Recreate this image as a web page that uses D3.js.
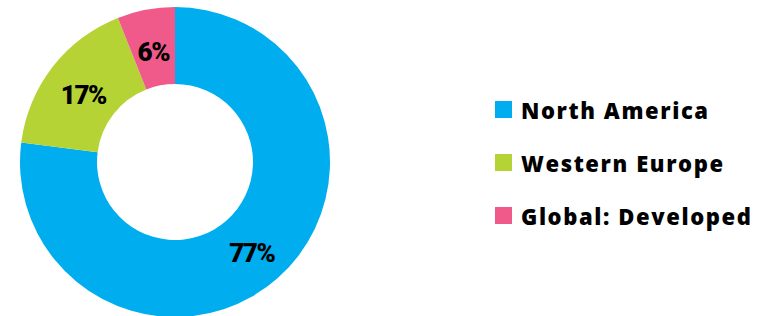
<!DOCTYPE html>
<html>
<head>
<meta charset="utf-8">
<script src="https://cdn.jsdelivr.net/npm/d3@7"></script>
<style>
  html, body { margin: 0; padding: 0; background: #fff; }
  svg { display: block; }
</style>
</head>
<body>
<div id="chart"></div>
<script>
const regions = ['North America', 'Western Europe', 'Global: Developed'];
const shares = [77, 17, 6];
const colors = ['#00AEEF', '#B5D335', '#F05A8B'];

const width = 777;
const height = 316;
const cx = 175;
const cy = 162;
const outerR = 155;
const innerR = 78;

const svg = d3
  .select('#chart')
  .append('svg')
  .attr('width', width)
  .attr('height', height);

const pie = d3.pie().sort(null).value((d) => d);
const arcs = pie(shares);

const arc = d3.arc().innerRadius(innerR).outerRadius(outerR);
const labelArc = d3.arc().innerRadius(116).outerRadius(116);

const g = svg.append('g').attr('transform', `translate(${cx},${cy})`);

g.selectAll('.slice')
  .data(arcs)
  .enter()
  .append('path')
  .attr('class', 'slice')
  .attr('d', arc)
  .style('fill', (d, i) => colors[i]);

g.selectAll('.label')
  .data(arcs)
  .enter()
  .append('text')
  .attr('class', 'label')
  .attr('transform', (d) => `translate(${labelArc.centroid(d)})`)
  .attr('dy', '0.5em')
  .style('text-anchor', 'middle')
  .style('font-family', 'Roboto, sans-serif')
  .style('font-weight', '900')
  .style('font-size', '26px')
  .style('letter-spacing', '-1.5px')
  .style('fill', '#000')
  .text((d) => `${d.data}%`);

// legend
const legend = svg
  .selectAll('.legend')
  .data(regions)
  .enter()
  .append('g')
  .attr('class', 'legend')
  .attr('transform', (d, i) => `translate(495,${101 + i * 53})`);

legend
  .append('rect')
  .attr('width', 17)
  .attr('height', 17)
  .style('fill', (d, i) => colors[i]);

legend
  .append('text')
  .attr('x', 26)
  .attr('y', 18)
  .style('font-family', '"Open Sans", sans-serif')
  .style('font-weight', '800')
  .style('font-size', '22px')
  .style('letter-spacing', '1.6px')
  .style('fill', '#000')
  .text((d) => d);
</script>
</body>
</html>
